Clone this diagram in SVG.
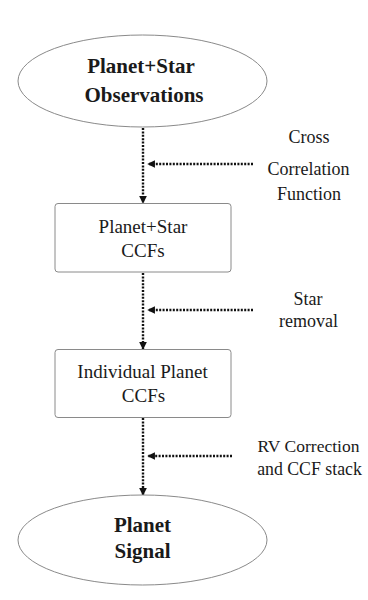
<svg xmlns="http://www.w3.org/2000/svg" width="368" height="600" viewBox="0 0 368 600">
<defs>
<marker id="ah" viewBox="0 0 10 10" refX="9" refY="5" markerWidth="3.2" markerHeight="3.2" orient="auto" markerUnits="strokeWidth">
<path d="M0,0 L10,5 L0,10 z" fill="#111"/>
</marker>
</defs>
<rect width="368" height="600" fill="#fff"/>
<g id="connectors" fill="none" stroke="#111" stroke-width="2.4" stroke-dasharray="2 1.4">
<line x1="143" y1="128" x2="143" y2="203" marker-end="url(#ah)"/>
<line x1="253" y1="164" x2="148" y2="164" marker-end="url(#ah)"/>
<line x1="143" y1="273" x2="143" y2="349" marker-end="url(#ah)"/>
<line x1="253" y1="310" x2="148" y2="310" marker-end="url(#ah)"/>
<line x1="143" y1="418" x2="143" y2="495" marker-end="url(#ah)"/>
<line x1="232" y1="456" x2="148" y2="456" marker-end="url(#ah)"/>
</g>
<g id="obs">
<ellipse fill="#fff" stroke="#8a8a8a" stroke-width="1" cx="142.5" cy="81" rx="124.5" ry="46"/>
<text style="font-family:Liberation Serif,serif !important" font-size="21" font-weight="bold" fill="#1a1a1a" text-anchor="middle" x="141" y="73">Planet+Star</text>
<text style="font-family:Liberation Serif,serif !important" font-size="21" font-weight="bold" fill="#1a1a1a" text-anchor="middle" x="144" y="102">Observations</text>
</g>
<g id="ccf1">
<rect fill="#fff" stroke="#8a8a8a" stroke-width="1" x="55" y="203.5" width="176" height="68.5" rx="3"/>
<text style="font-family:Liberation Serif,serif !important" font-size="19" fill="#1a1a1a" text-anchor="middle" x="143" y="232.5">Planet+Star</text>
<text style="font-family:Liberation Serif,serif !important" font-size="19" fill="#1a1a1a" text-anchor="middle" x="143" y="257">CCFs</text>
</g>
<g id="ccf2">
<rect fill="#fff" stroke="#8a8a8a" stroke-width="1" x="55" y="349.5" width="176" height="68" rx="3"/>
<text style="font-family:Liberation Serif,serif !important" font-size="19" fill="#1a1a1a" text-anchor="middle" x="142.5" y="377.5">Individual Planet</text>
<text style="font-family:Liberation Serif,serif !important" font-size="19" fill="#1a1a1a" text-anchor="middle" x="143.5" y="402">CCFs</text>
</g>
<g id="signal">
<ellipse fill="#fff" stroke="#8a8a8a" stroke-width="1" cx="142.5" cy="540" rx="124.5" ry="45"/>
<text style="font-family:Liberation Serif,serif !important" font-size="21" font-weight="bold" fill="#1a1a1a" text-anchor="middle" x="142.5" y="532">Planet</text>
<text style="font-family:Liberation Serif,serif !important" font-size="21" font-weight="bold" fill="#1a1a1a" text-anchor="middle" x="142.5" y="558">Signal</text>
</g>
<g id="labels">
<text style="font-family:Liberation Serif,serif !important" font-size="18" fill="#1a1a1a" text-anchor="middle" x="309" y="143">Cross</text>
<text style="font-family:Liberation Serif,serif !important" font-size="18" fill="#1a1a1a" text-anchor="middle" x="308.5" y="175">Correlation</text>
<text style="font-family:Liberation Serif,serif !important" font-size="18" fill="#1a1a1a" text-anchor="middle" x="309" y="200">Function</text>
<text style="font-family:Liberation Serif,serif !important" font-size="18" fill="#1a1a1a" text-anchor="middle" x="308" y="305">Star</text>
<text style="font-family:Liberation Serif,serif !important" font-size="18" fill="#1a1a1a" text-anchor="middle" x="308.5" y="327">removal</text>
<text style="font-family:Liberation Serif,serif !important" font-size="17.5" fill="#1a1a1a" text-anchor="middle" x="308.5" y="452">RV Correction</text>
<text style="font-family:Liberation Serif,serif !important" font-size="17.8" fill="#1a1a1a" text-anchor="middle" x="309.5" y="475">and CCF stack</text>
</g>
</svg>
